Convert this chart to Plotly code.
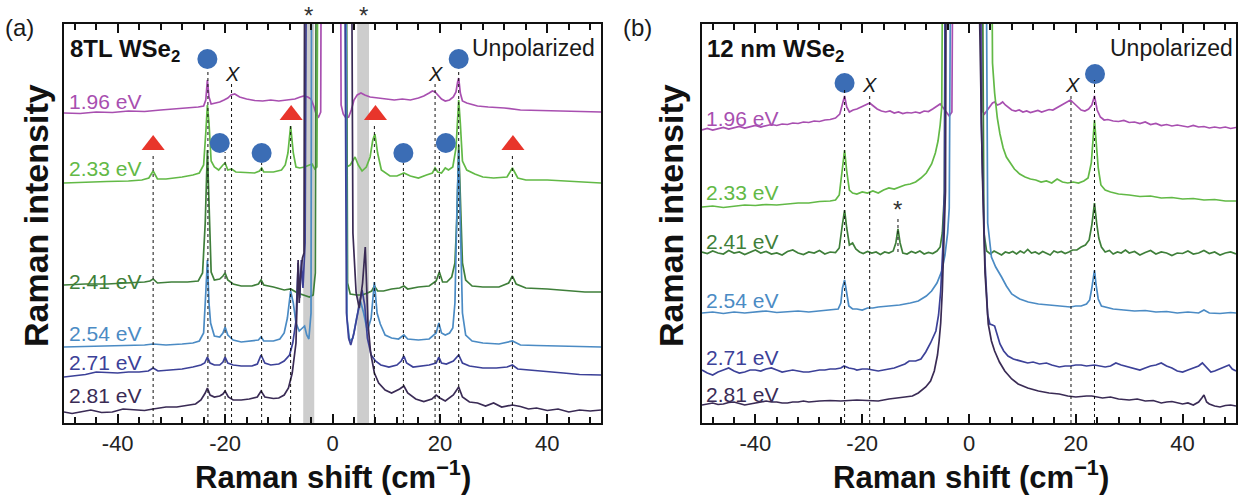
import plotly.graph_objects as go

FONT = "Liberation Sans, Arial, sans-serif"
W, H = 1238, 495
TOP, BOT = 24, 423          # plot-area top / bottom in pixels
YMAX = BOT - TOP            # intensity scale (arb. units) spans the plot height

# ---------------------------------------------------------------- data
ENERGIES = ["1.96 eV", "2.33 eV", "2.41 eV", "2.54 eV", "2.71 eV", "2.81 eV"]
COLORS = ["#a84fb0", "#62b946", "#3f7f3a", "#4b8bc4", "#3c4198", "#3a2b55"]

# (a) 8TL WSe2 spectra: (Raman shift, intensity); 800 = off scale (laser line)
A196 = [(-50,310),(-47,309.5),(-44,311),(-41,310.5),(-38,312),(-35,311.5),(-32,313),(-29,314),(-27,315),(-25,316),(-24,317),(-23.6,323),(-23.3,343),(-23.0,326),(-22.6,319),(-21.8,320),(-21,321),(-20.2,323),(-19.5,325),(-18.9,328),(-18.2,329),(-17.3,326),(-16,324),(-14.5,322.5),(-13,322),(-11.5,323),(-10,322),(-8.5,323),(-7,324),(-6,326),(-5.3,327),(-4.6,326),(-4.0,324),(-3.5,317),(-3.0,308),(-2.6,306),(-2.2,311),(-1.9,800),
        (1.3,800),(1.6,318),(2.0,309),(2.5,305),(3.0,306),(3.5,313),(4.0,323),(4.6,328),(5.3,330),(6.0,328),(7,326),(8.5,325),(10,324),(11.5,323),(13,324),(14.5,323),(16,325),(17,327),(18,330),(18.6,332),(19.1,331),(19.7,327),(20.3,324),(21,322),(21.8,323),(22.5,326),(23.0,331),(23.3,341),(23.5,345),(23.8,330),(24.2,322),(25,320),(27,317),(29,316),(32,315),(35,313),(38,312.5),(41,312),(44,311.5),(47,311),(50,311)]
A233 = [(-50,240),(-46,241),(-42,241.5),(-38,242),(-35.5,243),(-34.2,245),(-33.4,252),(-32.6,244),(-31,244),(-28,246),(-26,248),(-24.8,250),(-24.0,258),(-23.6,290),(-23.3,318),(-23.0,300),(-22.6,262),(-22.0,256),(-21.2,253),(-20.4,258),(-20.0,260),(-19.5,253),(-18.8,254),(-18,251),(-16,250),(-14.5,250),(-13.6,252),(-13.2,255),(-12.8,251),(-11,251),(-9.5,253),(-8.8,258),(-8.3,270),(-7.8,297),(-7.3,270),(-6.8,256),(-6.1,255),(-5.2,256),(-4.3,258),(-3.8,259),(-3.3,254),(-2.9,256),(-2.5,800),
        (2.2,800),(2.6,256),(3.3,258),(4.2,266),(4.8,258),(5.5,252),(6.3,256),(7.0,266),(7.5,283),(7.9,289),(8.4,270),(9.1,253),(10.7,247),(12,247),(13.3,250),(14.5,247),(16,245),(17.5,248),(18.6,250),(19.1,255),(19.6,251),(20.3,250),(21,255),(21.6,253),(22.4,256),(23.0,275),(23.3,305),(23.5,323),(23.8,300),(24.2,262),(25,253),(26.5,249),(28,246),(30,245),(32.5,246),(33.5,255),(34.5,245),(36,243),(40,243),(44,241.5),(47,241),(50,240)]
A241 = [(-50,138),(-46,139),(-42,139),(-38,140),(-35,141),(-34,142),(-33.4,144),(-32.6,140),(-30,141),(-27,141),(-25,142),(-24.2,150),(-23.7,200),(-23.3,273),(-23.0,220),(-22.6,151),(-22.0,143),(-21,144),(-20.4,147),(-20,150),(-19.5,143),(-18.5,139),(-17,137),(-15,137),(-13.8,139),(-13.3,143),(-12.8,138),(-11,136),(-9,133),(-7.8,134),(-6.5,130),(-5.3,128),(-4.3,126),(-3.6,128),(-3.2,150),(-2.9,800),
        (2.4,800),(2.8,140),(3.3,129),(4.5,128),(5.5,128),(6.5,130),(7.3,132),(7.8,137),(8.4,132),(9.5,132),(11,134),(12.5,135),(13.3,137),(14,134),(16,136),(18,137),(19.3,142),(19.9,151),(20.5,141),(21.3,141),(22.2,146),(22.8,160),(23.2,210),(23.5,278),(23.8,220),(24.2,160),(24.8,143),(26,137),(28,136),(31,136),(32.8,140),(33.5,147),(34.2,139),(36,135),(40,134),(44,132),(47,131),(50,131)]
A254 = [(-50,76),(-46,76.5),(-42,77),(-38,77.5),(-35,78),(-33.4,79),(-31,78),(-28,79),(-26,80),(-24.8,82),(-24.0,90),(-23.6,130),(-23.3,163),(-23.0,120),(-22.7,100),(-22,87),(-21,86),(-20.4,90),(-20,96),(-19.5,88),(-18.5,83),(-17,81),(-15,82),(-13.8,83),(-13.3,86),(-12.8,82),(-11,82),(-9.8,84),(-9,90),(-8.4,105),(-7.8,132),(-7.3,120),(-6.8,100),(-6.2,92),(-5.6,95),(-5.2,97),(-4.8,88),(-4.4,84),(-4.0,110),(-3.8,800),
        (2.3,800),(2.7,105),(3.2,82),(3.8,85),(4.5,105),(5.2,122),(5.8,110),(6.5,92),(7.2,105),(7.8,141),(8.3,110),(8.9,99),(9.8,88),(11,85),(12.3,84),(13.3,88),(14,84),(16,83),(18,84),(19.3,90),(19.8,100),(20.3,90),(21,88),(21.8,90),(22.4,95),(22.8,120),(23.2,220),(23.5,273),(23.8,200),(24.2,110),(24.8,88),(26,82),(28,80),(31,79),(33.5,82),(35,78),(38,77.5),(42,77),(46,76.5),(50,76)]
A271 = [(-50,46),(-48,47),(-46,48.5),(-44,51),(-42,50.5),(-40,50),(-38,51),(-36,51),(-34.3,52),(-33.4,55),(-32.5,52),(-30,53),(-28,54),(-26,56),(-24.5,58),(-23.8,60),(-23.3,66),(-22.8,60),(-22,58),(-21,58),(-20.4,61),(-20,66),(-19.5,60),(-18.5,58),(-17,57),(-15,57),(-14,59),(-13.3,68),(-12.6,60),(-11.5,58),(-10,59),(-9,62),(-8,68),(-7.4,80),(-6.8,102),(-6.4,160),(-6.1,125),(-5.8,163),(-5.5,135),(-5.1,180),(-4.6,800),
        (2.0,800),(2.6,110),(3.0,85),(3.4,78),(4.0,90),(4.8,115),(5.5,133),(6.0,118),(6.5,85),(7.2,68),(8,62),(9,58),(10.5,56),(12,58),(12.8,62),(13.3,67),(13.8,60),(15,56),(16.5,57),(18,58),(19.3,60),(19.8,66),(20.3,60),(21.2,59),(22.5,62),(23.5,68),(24.2,60),(25.5,57),(28,55),(30.5,55),(32.5,56),(33.5,58),(34.5,54),(37,53),(40,51.5),(43,50),(46,48.5),(50,48)]
A281 = [(-50,11),(-48.5,9.5),(-47,11),(-45,13),(-43,10.5),(-41,11),(-39,14),(-37,13),(-35,12.5),(-33.4,14),(-31,16),(-29,16),(-27,18),(-25.5,19),(-24.5,23),(-23.7,30),(-23.3,35),(-22.8,28),(-22,26),(-21,27),(-20.4,29),(-20,32),(-19.4,26),(-18.5,23),(-17,23),(-15.5,24),(-14,26),(-13.3,32),(-12.6,26),(-11,24.5),(-10,25),(-9,28),(-8.2,35),(-7.5,50),(-6.8,80),(-6.4,163),(-6.2,120),(-5.9,150),(-5.6,165),(-5.3,170),(-5.0,800),
        (3.3,800),(3.8,190),(4.4,130),(5.0,115),(5.6,140),(6.1,176),(6.6,100),(7.1,70),(7.8,50),(8.6,40),(9.8,33),(11,30),(12.5,34),(13.3,37),(14,30),(15.5,24),(17,21.5),(18.5,24),(19.3,28),(20,25),(21,22),(22.5,28),(23.5,36),(24.2,26),(25.5,21),(27,20),(28.5,17),(30,20),(31.5,16),(33.5,18),(35,16.5),(36.5,14),(38,15),(40,12.5),(42,14),(44,11),(46,13),(48,12),(50,13)]

# (b) 12 nm WSe2 spectra
B196 = [(-50,293),(-49,294.5),(-48,293),(-47,294),(-46,295.5),(-45,294),(-44,295),(-43,296.5),(-42,295),(-41,296),(-40,297.5),(-39,296),(-38,297),(-37,298.5),(-36,297.5),(-35,299),(-34,298.5),(-33,300),(-32,299.5),(-31,301),(-30,300.5),(-29,302),(-28,301.5),(-27,303),(-26,303.5),(-25,305),(-24.2,309),(-23.7,318),(-23.3,327),(-22.9,316),(-22.4,311),(-21.7,313),(-21,314),(-20.2,316),(-19.4,318),(-18.6,320),(-17.9,317),(-17.2,314),(-16.4,312),(-15.6,311),(-14.8,312),(-14,310),(-13.2,311),(-12.4,309.5),(-11.6,310.5),(-10.8,310),(-10,311),(-9.2,310),(-8.4,312),(-7.6,311.5),(-6.8,314),(-6.0,317),(-5.4,319),(-4.8,315),(-4.2,310),(-3.7,307),(-3.2,311),(-2.7,800),
        (2.0,800),(2.5,312),(2.9,309),(3.4,313),(3.9,317),(4.4,320),(4.8,321),(5.3,318),(5.8,319),(6.3,321),(6.8,318),(7.4,315),(8,313),(8.7,312),(9.4,313),(10.1,311),(10.8,312),(11.5,310.5),(12.2,311.5),(12.9,312.5),(13.6,311),(14.3,312),(15,313.5),(15.7,313),(16.4,315),(17.1,317),(17.8,319),(18.5,321),(19.0,323),(19.6,320),(20.3,316),(21,313),(21.7,312),(22.4,314),(23.0,318),(23.5,327),(24.0,313),(24.6,306),(25.3,303),(26,303.5),(27,302),(28,301.5),(29,302.5),(30,300.5),(31,301),(32,299.5),(33,301),(34,298.5),(35,299.5),(36,297.5),(37,298.5),(38,297),(39,298),(40,297),(41,296),(42,297.5),(43,296),(44,296.5),(45,295),(46,296),(47,295),(48,296),(49,294.5),(50,295.5)]
B233 = [(-50,216),(-48,217),(-46,215.5),(-44,217),(-42,218),(-40,217.5),(-38,218.5),(-36,218),(-34,219),(-32,220),(-30,220),(-28,221.5),(-26,222),(-25,223),(-24.3,228),(-23.8,250),(-23.3,273),(-22.9,252),(-22.4,233),(-21.8,230),(-21,229),(-20,231),(-19,230),(-18,232),(-17,230),(-16,233),(-15,235),(-14,234),(-13,236),(-12,238),(-11,239),(-10,241),(-9,245),(-8,250),(-7,259),(-6.3,270),(-5.8,282),(-5.4,298),(-5.1,316),(-4.6,800),
        (3.9,800),(4.4,360),(4.8,330),(5.3,305),(5.8,289),(6.4,275),(7.0,266),(7.7,260),(8.5,254),(9.5,249),(10.5,246),(11.5,244),(12.5,243),(13.5,241),(14.5,242),(15.5,240),(16.5,244),(17.5,241),(18.5,240),(19.5,241),(20.5,240),(21.5,242),(22.3,245),(22.9,260),(23.2,285),(23.5,303),(23.8,282),(24.2,255),(24.7,238),(25.5,233),(26.5,231),(28,229),(30,228),(32,226.5),(34,227),(36,225),(38,225.5),(40,224),(42,224.5),(44,223),(46,223.5),(48,222),(50,222)]
B241 = [(-50,171),(-49,169.5),(-48,172),(-47,170),(-46,169),(-45,172.5),(-44,170),(-43,171),(-42,168.5),(-41,170.5),(-40,173),(-39,170),(-38,171.5),(-37,169),(-36,170),(-35,168),(-34,171.5),(-33,173),(-32,170),(-31,168.5),(-30,171),(-29,170),(-28,172.5),(-27,169),(-26,171),(-25,170.5),(-24.3,175),(-23.8,195),(-23.3,213),(-22.9,195),(-22.4,178),(-21.8,180),(-21.2,174),(-20.5,171),(-19.8,169.5),(-19,171.5),(-18.2,170),(-17.4,171),(-16.6,168.5),(-15.8,171),(-15,170),(-14.2,172),(-13.7,180),(-13.3,194),(-12.9,180),(-12.4,170),(-11.6,169),(-10.8,171.5),(-10,170),(-9.2,172),(-8.4,169),(-7.6,170.5),(-6.8,169.5),(-6.0,172),(-5.4,176),(-5.0,190),(-4.6,230),(-4.2,800),
        (2.2,800),(2.8,190),(3.3,172),(4,169),(4.7,172),(5.4,170),(6.1,168),(6.8,171),(7.5,170),(8.2,171.5),(8.9,169),(9.6,172),(10.3,170),(11,173.5),(11.7,170),(12.4,171),(13.1,169),(13.8,171.5),(14.5,170),(15.2,168),(15.9,172),(16.6,170.5),(17.3,171.5),(18,169.5),(18.7,171),(19.4,173),(20.2,173),(21,176),(21.8,178),(22.5,183),(23.0,198),(23.5,220),(23.9,200),(24.3,185),(24.8,176),(25.5,171),(26.3,172.5),(27,169),(27.8,171),(28.5,170),(29.3,173),(30,170),(31,171.5),(32,168),(33,170.5),(34,172.5),(35,169),(36,171),(37,170),(38,167.5),(39,170),(40,169.5),(41,172),(42,169),(43,170),(44,172.5),(45,169.5),(46,171),(47,168),(48,170),(49,171),(50,169)]
B254 = [(-50,110),(-48,111),(-46,109.5),(-44,111),(-42,110),(-40,111),(-38,112),(-36,110.5),(-34,111),(-32,112),(-30,111),(-28,112),(-26,113),(-24.5,114),(-24,120),(-23.7,135),(-23.3,143),(-22.9,130),(-22.5,117),(-21.8,114),(-21,114),(-20,113),(-19,115),(-18,115),(-17,116),(-15,117),(-13,118),(-11,120),(-9.5,122),(-8,127),(-7,132),(-6,140),(-5.1,152),(-4.5,168),(-4.0,190),(-3.7,215),(-3.1,800),
        (2.9,800),(3.5,200),(4.2,166),(5,156),(6.1,146),(7,137),(8.0,129),(9.5,124),(11.1,121),(13,119),(15,118),(16.9,117),(18,116),(19,116),(20,117),(21,117),(22,119),(22.6,123),(23.0,135),(23.3,148),(23.5,153),(23.8,138),(24.2,124),(24.8,117),(25.5,116),(27,114),(29,113),(31,112),(33,112.5),(35,111),(37,111.5),(39,110),(41,111),(43,110),(44,113),(45,110),(47,109.5),(49,110.5),(50,110)]
B271 = [(-50,53),(-49,50),(-48,48),(-47,51),(-46,53),(-45,55),(-44,52),(-43,50),(-42,51),(-41,53),(-40,53),(-39,52),(-38,54),(-37,55),(-36,53),(-35,51),(-34,52),(-33,53),(-32,52),(-31,51),(-30,51),(-29,52),(-28,53),(-27,53),(-26,54),(-25,54),(-24,55),(-23.4,57),(-22.5,55),(-21.5,54),(-21,53),(-20,54),(-19,54),(-18,53),(-17,52),(-16,53),(-15,54),(-14,55),(-13,57),(-12,59),(-11.2,62),(-10,62),(-9,64),(-8.1,71),(-7.2,80),(-6.2,92),(-5.7,108),(-5.3,132),(-4.9,175),(-4.6,232),(-4.3,800),
        (1.8,800),(2.3,300),(3.0,160),(3.5,108),(3.9,99),(4.4,98),(4.8,97),(5.3,88),(5.8,79),(6.5,72),(7.3,67),(8.3,64),(9.5,62),(11,60),(12,61),(13.2,59),(14.5,60),(15.5,58),(16.9,56),(18,57),(19,57),(20,58),(21,58),(22,57),(23.5,58),(24.5,57),(25.5,56),(26.5,57),(27.5,60),(28.5,58),(30,56),(31,55),(32,53),(33,55),(34,57),(35,58),(36,60),(37,57),(38,55),(39,52),(40,51),(41,53),(42,55),(43,57),(43.7,60),(44.5,55),(45.3,51),(46,52),(47,54),(48,56),(48.7,58),(49.3,54),(50,52)]
B281 = [(-50,18),(-49,19),(-48,20),(-47,18.5),(-46,19),(-45,20.5),(-44,21),(-43,19.5),(-42,18),(-41,19),(-40,20),(-39,21),(-38,22),(-37,21),(-36,21),(-35,20),(-34,20),(-33,21),(-32,21),(-31,22),(-30,21),(-28,22),(-26,22.5),(-24,22),(-22,23),(-21,23),(-19,22.5),(-18,22),(-17,22),(-15,24),(-13,25),(-12,26),(-10.6,27),(-9.5,30),(-8.1,36),(-7.2,42),(-6.5,52),(-5.9,68),(-5.6,82),(-5.3,100),(-5.0,132),(-4.7,180),(-4.4,232),(-4.1,800),
        (1.4,800),(2.0,400),(2.5,250),(3.0,150),(3.6,99),(4.2,82),(4.8,72),(5.7,61),(6.7,52),(8,44),(9.2,39),(11,35),(13,32),(15,30),(16.9,29),(18.5,27),(20,26),(22,27),(23,27),(25,25),(26.5,26),(28,24),(30,23),(31.5,24),(33,22),(34.5,22.5),(36,20),(37,21),(38,21.5),(40,19),(41,20),(42,18),(43,21),(43.6,25),(44,28),(44.5,21),(45,19),(46,17),(47,16),(48,17.5),(49,18),(50,17)]

SPECTRA_A = [A196, A233, A241, A254, A271, A281]
SPECTRA_B = [B196, B233, B241, B254, B271, B281]

# peak markers: blue circles, red triangles, "X" labels
A_CIRC_X = [-23.3, -21.0, -13.2, 13.2, 21.1, 23.5]
A_CIRC_Y = [364, 280, 270, 270, 280, 364]
A_TRI_X = [-33.4, -7.7, 8.0, 33.6]
A_TRI_Y = [278, 308, 308, 278]
A_X_LBL = [(-18.7, 349), (19.1, 349)]
B_CIRC_X = [-23.3, 23.6]
B_CIRC_Y = [340, 349]
B_X_LBL = [(-18.6, 338), (19.3, 338)]

# dotted guide lines: (shift, top of line)
A_GUIDES = [(-33.4, 268), (-23.2, 353), (-20.0, 271), (-18.8, 341), (-13.2, 260), (-7.8, 300),
            (7.8, 300), (13.2, 260), (19.1, 341), (19.9, 271), (23.5, 353), (33.5, 268)]
B_GUIDES = [(-23.3, 333), (-18.6, 330), (19.1, 328), (23.5, 343)]

# grey bands (filter artefacts) in panel (a)
A_BANDS = [(-5.45, -3.4), (4.6, 6.8)]

# energy-label heights (pixel rows of the label centres)
A_LBL_ROWS = [101, 168, 281, 333, 362, 395]
B_LBL_ROWS = [118, 192, 241, 300, 357, 394]

# ---------------------------------------------------------------- figure
fig = go.Figure()

def py2paper(py):
    return (BOT - py) / YMAX

def px2paper(px):
    return px / W

for spectra, (xa, ya) in ((SPECTRA_A, ("x", "y")), (SPECTRA_B, ("x2", "y2"))):
    for pts, col in zip(spectra, COLORS):
        fig.add_trace(go.Scatter(
            x=[p[0] for p in pts], y=[p[1] for p in pts], mode="lines",
            line=dict(color=col, width=1.7), xaxis=xa, yaxis=ya,
            showlegend=False, hoverinfo="skip"))

CIRC_COL = "#3b6db5"
TRI_COL = "#e8352b"
for xs, ys, xa, ya in ((A_CIRC_X, A_CIRC_Y, "x", "y"), (B_CIRC_X, B_CIRC_Y, "x2", "y2")):
    fig.add_trace(go.Scatter(x=xs, y=ys, mode="markers", xaxis=xa, yaxis=ya,
                             marker=dict(symbol="circle", size=20, color=CIRC_COL),
                             showlegend=False, hoverinfo="skip", cliponaxis=False))
fig.add_trace(go.Scatter(x=A_TRI_X, y=A_TRI_Y, mode="markers", xaxis="x", yaxis="y",
                         marker=dict(symbol="triangle-up", size=20, color=TRI_COL),
                         showlegend=False, hoverinfo="skip", cliponaxis=False))

shapes = []
for x0, x1 in A_BANDS:
    shapes.append(dict(type="rect", xref="x", yref="y", x0=x0, x1=x1, y0=0, y1=YMAX,
                       fillcolor="#cdcdcd", line=dict(width=0), layer="below"))
for guides, xr, yr in ((A_GUIDES, "x", "y"), (B_GUIDES, "x2", "y2")):
    for gx, gtop in guides:
        shapes.append(dict(type="line", xref=xr, yref=yr, x0=gx, x1=gx, y0=0, y1=gtop,
                           line=dict(color="#111", width=1, dash="dot"), layer="above"))
shapes.append(dict(type="line", xref="x2", yref="y2", x0=-13.3, x1=-13.3, y0=171, y1=207,
                   line=dict(color="#111", width=1, dash="dot")))

ann = []
def text(x, y, s, size, xref="paper", yref="paper", xanchor="center", color="#1a1a1a",
         angle=0):
    ann.append(dict(x=x, y=y, xref=xref, yref=yref, text=s, showarrow=False,
                    xanchor=xanchor, yanchor="middle", textangle=angle,
                    font=dict(family=FONT, size=size, color=color)))

# panel letters, sample names, polarisation
text(px2paper(3), py2paper(27), "(a)", 24, xanchor="left")
text(px2paper(621), py2paper(27), "(b)", 24, xanchor="left")
text(px2paper(68), py2paper(50), "<b>8TL WSe<sub>2</sub></b>", 24, xanchor="left", color="#111")
text(px2paper(705), py2paper(50), "<b>12 nm WSe<sub>2</sub></b>", 24, xanchor="left", color="#111")
text(px2paper(597), py2paper(48), "Unpolarized", 23, xanchor="right")
text(px2paper(1235), py2paper(48), "Unpolarized", 23, xanchor="right")

# axis titles
for cx in (333, 971):
    text(px2paper(cx), py2paper(475), "<b>Raman shift (cm<sup>\u22121</sup>)</b>", 31, color="#111")
for cx in (36, 671):
    text(px2paper(cx), py2paper(216), "<b>Raman intensity</b>", 34, angle=-90, color="#111")

# excitation-energy labels
for lbl, row, col in zip(ENERGIES, A_LBL_ROWS, COLORS):
    text(px2paper(67), py2paper(row), lbl, 21, xanchor="left", color=col)
for lbl, row, col in zip(ENERGIES, B_LBL_ROWS, COLORS):
    text(px2paper(704), py2paper(row), lbl, 21, xanchor="left", color=col)

# "X" labels and asterisks
for gx, gy in A_X_LBL:
    text(gx, gy, "<i>X</i>", 20, xref="x", yref="y")
for gx, gy in B_X_LBL:
    text(gx, gy, "<i>X</i>", 20, xref="x2", yref="y2")
for gx in (-4.4, 5.7):
    text(gx, py2paper(15), "*", 24, xref="x", color="#333")
text(-13.3, 214, "*", 24, xref="x2", yref="y2", color="#333")

xax = dict(range=[-50, 50], showgrid=False, zeroline=False, showline=True,
           linecolor="#111", linewidth=2, mirror="ticks", ticks="inside",
           ticklen=9, tickwidth=1.8, tickcolor="#111",
           tickmode="array", tickvals=[-40, -20, 0, 20, 40],
           ticktext=["-40", "-20", "0", "20", "40"],
           tickfont=dict(family=FONT, size=22, color="#222"),
           minor=dict(tickmode="linear", tick0=0, dtick=4, ticks="inside",
                      ticklen=6, tickwidth=1.6, tickcolor="#111"),
           fixedrange=True)
yax = dict(range=[0, YMAX], showgrid=False, zeroline=False, showline=True,
           linecolor="#111", linewidth=2, mirror=True, ticks="",
           showticklabels=False, fixedrange=True)

fig.update_layout(
    width=W, height=H, margin=dict(l=0, r=0, t=TOP, b=H - BOT),
    paper_bgcolor="white", plot_bgcolor="white",
    xaxis=dict(xax, domain=[64 / W, 601 / W], anchor="y"),
    yaxis=dict(yax, domain=[0, 1], anchor="x"),
    xaxis2=dict(xax, domain=[702 / W, 1236 / W], anchor="y2"),
    yaxis2=dict(yax, domain=[0, 1], anchor="x2"),
    shapes=shapes, annotations=ann, showlegend=False,
)

fig.write_html("out.html")
